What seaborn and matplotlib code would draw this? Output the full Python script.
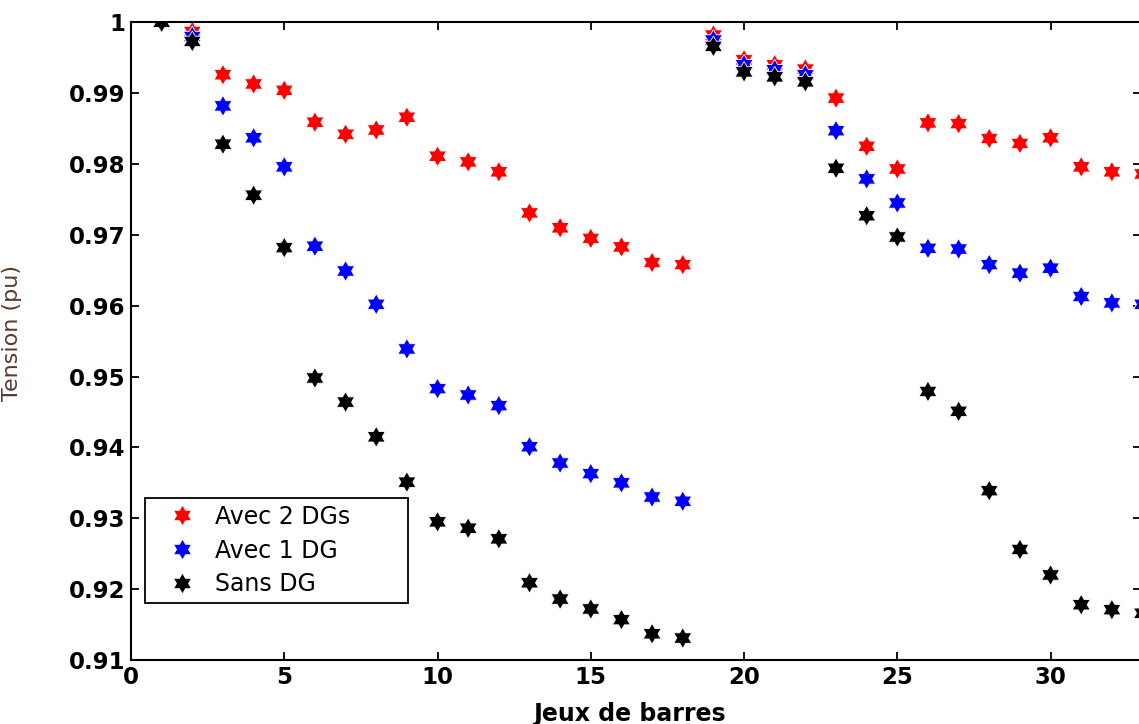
import numpy as np
import pandas as pd
import matplotlib
matplotlib.use("Agg")
import matplotlib.pyplot as plt
from matplotlib.path import Path
import seaborn as sns

# Bus numbers and voltage profiles (pu)
buses = list(range(1, 34))

v_two_dg = [1.0000, 0.9987, 0.9926, 0.9913, 0.9904, 0.9859, 0.9842, 0.9848, 0.9866,
            0.9811, 0.9803, 0.9789, 0.9731, 0.9710, 0.9695, 0.9683, 0.9661, 0.9658,
            0.9982, 0.9947, 0.9940, 0.9934, 0.9893, 0.9825, 0.9793, 0.9858, 0.9857,
            0.9836, 0.9829, 0.9837, 0.9796, 0.9789, 0.9786]

v_one_dg = [1.0000, 0.9980, 0.9882, 0.9837, 0.9796, 0.9684, 0.9649, 0.9602, 0.9539,
            0.9483, 0.9474, 0.9459, 0.9401, 0.9378, 0.9363, 0.9350, 0.9330, 0.9324,
            0.9975, 0.9940, 0.9933, 0.9926, 0.9847, 0.9779, 0.9745, 0.9681, 0.9680,
            0.9658, 0.9646, 0.9653, 0.9613, 0.9604, 0.9602]

v_no_dg = [1.0000, 0.9973, 0.9828, 0.9756, 0.9682, 0.9498, 0.9464, 0.9415, 0.9351,
           0.9295, 0.9286, 0.9271, 0.9209, 0.9186, 0.9172, 0.9157, 0.9137, 0.9131,
           0.9966, 0.9930, 0.9923, 0.9916, 0.9794, 0.9727, 0.9697, 0.9479, 0.9451,
           0.9339, 0.9256, 0.9220, 0.9178, 0.9171, 0.9166]

series_names = ["Avec 2 DGs", "Avec 1 DG", "Sans DG"]
series_colors = ["#ff0000", "#0000ff", "#000000"]

df = pd.concat([
    pd.DataFrame({"bus": buses, "tension": v, "serie": name})
    for name, v in zip(series_names, [v_two_dg, v_one_dg, v_no_dg])
], ignore_index=True)

# Six-pointed star (hexagram) marker
ang = np.deg2rad(90 + 30 * np.arange(12))
rad = np.where(np.arange(12) % 2 == 0, 1.0, 1 / np.sqrt(3))
verts = np.column_stack([rad * np.cos(ang), rad * np.sin(ang)])
verts = np.vstack([verts, verts[:1]])
codes = [Path.MOVETO] + [Path.LINETO] * 11 + [Path.CLOSEPOLY]
hexagram = Path(verts, codes)

sns.set_style("white")
plt.rcParams["font.family"] = ["DejaVu Sans"]
plt.rcParams["text.color"] = "black"
plt.rcParams["axes.labelcolor"] = "black"

fig = plt.figure(figsize=(11.39, 7.24), dpi=100)
ax = fig.add_axes([131 / 1139, 1 - 660 / 724, 1010 / 1139, (660 - 22.3) / 724])

sns.scatterplot(data=df, x="bus", y="tension", hue="serie",
                hue_order=series_names, palette=series_colors,
                marker=hexagram, s=225, linewidth=0.6, ax=ax, legend=True)

ax.set_xlim(0, 32.95)
ax.set_ylim(0.91, 1.0)
ax.set_xticks([0, 5, 10, 15, 20, 25, 30])
ax.set_yticks([0.91, 0.92, 0.93, 0.94, 0.95, 0.96, 0.97, 0.98, 0.99, 1.0])
ax.set_yticklabels(["0.91", "0.92", "0.93", "0.94", "0.95", "0.96",
                    "0.97", "0.98", "0.99", "1"])

for sp in ax.spines.values():
    sp.set_visible(True)
    sp.set_color("black")
    sp.set_linewidth(1.5)

ax.tick_params(direction="in", length=6, width=1.3, top=True, right=True,
               bottom=True, left=True, pad=4, colors="black")
for lab in ax.get_xticklabels() + ax.get_yticklabels():
    lab.set_fontweight("bold")
    lab.set_fontsize(16.5)
    lab.set_color("black")

ax.set_xlabel("Jeux de barres", fontsize=17, fontweight="bold", color="black")
ax.xaxis.set_label_coords(0.494, -0.066)
ax.set_ylabel("Tension (pu)", fontsize=16, color="#5b3a2e")
ax.yaxis.set_label_coords(-0.108, 0.513)

leg = ax.legend(loc="upper left", bbox_to_anchor=(0.0139, 0.035, 0.2604, 0.219),
                mode="expand", borderaxespad=0, frameon=True, fancybox=False,
                fontsize=17, handletextpad=0.1, labelspacing=0.42,
                borderpad=0.28, handlelength=2.6, markerscale=1.0)
leg.get_frame().set_edgecolor("black")
leg.get_frame().set_linewidth(1.3)
leg.get_frame().set_alpha(1)
for t in leg.get_texts():
    t.set_color("black")

fig.savefig("out.png", dpi=100)
